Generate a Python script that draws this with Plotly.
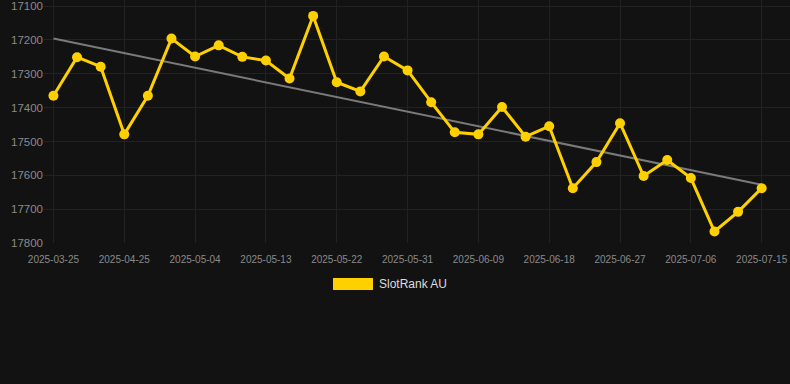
import numpy as np
import plotly.graph_objects as go

dates = ["2025-03-25", "2025-04-19", "2025-04-22", "2025-04-25", "2025-04-28", "2025-05-01",
         "2025-05-04", "2025-05-07", "2025-05-10", "2025-05-13", "2025-05-16", "2025-05-19",
         "2025-05-22", "2025-05-25", "2025-05-28", "2025-05-31", "2025-06-03", "2025-06-06",
         "2025-06-09", "2025-06-12", "2025-06-15", "2025-06-18", "2025-06-21", "2025-06-24",
         "2025-06-27", "2025-06-30", "2025-07-03", "2025-07-06", "2025-07-09", "2025-07-12",
         "2025-07-15"]
rank = [17365, 17251, 17279, 17479, 17365, 17196, 17249, 17216, 17250, 17261, 17314, 17129,
        17325, 17352, 17249, 17290, 17384, 17473, 17479, 17398, 17486, 17455, 17638, 17561,
        17446, 17602, 17555, 17608, 17766, 17708, 17638]
tick_dates = dates[::3]
y_ticks = [17100, 17200, 17300, 17400, 17500, 17600, 17700, 17800]
series_name = "SlotRank AU"

idx = np.arange(len(rank))
slope, intercept = np.polyfit(idx, rank, 1)
trend = slope * idx + intercept

fig = go.Figure()
fig.add_trace(go.Scatter(x=dates, y=trend, mode="lines",
                         line=dict(color="#7a7a7a", width=2), hoverinfo="skip", showlegend=False))
fig.add_trace(go.Scatter(x=dates, y=rank, mode="lines+markers", name=series_name,
                         line=dict(color="#FFD000", width=3),
                         marker=dict(color="#FFD000", size=10), showlegend=False))

fig.update_layout(
    width=790, height=384,
    margin=dict(l=44, r=0, t=0, b=141),
    paper_bgcolor="#121212", plot_bgcolor="#121212",
    font=dict(family="Liberation Sans, Arial, sans-serif", color="#8a8a8a", size=11),
    xaxis=dict(type="category", tickmode="array", tickvals=tick_dates, ticktext=tick_dates,
               range=[-0.4, 31.2], showgrid=True, gridcolor="#222222", gridwidth=1,
               zeroline=False, showline=False, ticks="outside", ticklen=7,
               tickcolor="rgba(0,0,0,0)", tickfont=dict(size=10, color="#8a8a8a")),
    yaxis=dict(range=[17800, 17082], tickmode="array", tickvals=y_ticks,
               ticktext=[str(v) for v in y_ticks], showgrid=True, gridcolor="#222222",
               zeroline=False, showline=False, ticks="", tickfont=dict(size=11.5, color="#8a8a8a")),
    showlegend=False,
)
# legend drawn as swatch + label
fig.add_shape(type="rect", xref="paper", yref="paper",
              x0=(333 - 44) / 746, x1=(373 - 44) / 746,
              y0=(243 - 290) / 243, y1=(243 - 278) / 243,
              fillcolor="#FFD000", line=dict(width=0))
fig.add_annotation(xref="paper", yref="paper", x=(377 - 44) / 746, y=(243 - 284) / 243,
                   text=series_name, showarrow=False, xanchor="left", yanchor="middle",
                   font=dict(size=12, color="#dddddd"))

fig.write_html("out.html")
